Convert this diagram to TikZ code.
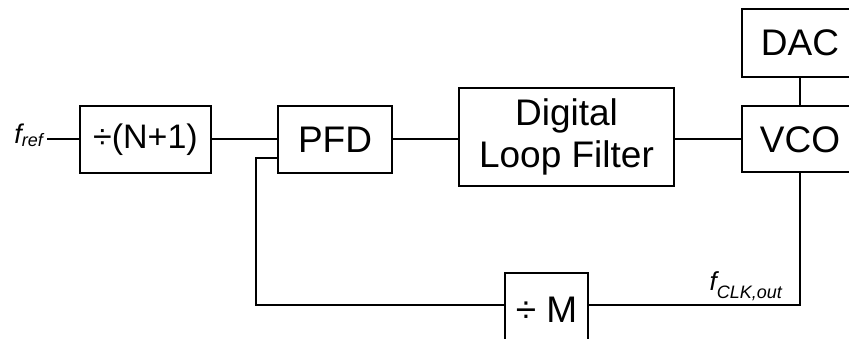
\documentclass[tikz,border=0pt]{standalone}
\usepackage{fontspec}
\setmainfont{Liberation Sans}
\begin{document}
\begin{tikzpicture}[x=1pt,y=1pt,
  blk/.style={draw, line width=2pt, inner sep=0pt, align=center,
    font=\fontsize{37}{41.5}\selectfont},
  wire/.style={line width=2pt}]
\useasboundingbox (0,0) rectangle (849,339);
\clip (0,0) rectangle (849,339);
\node[blk, minimum width=131, minimum height=67, font=\fontsize{34}{40}\selectfont] (div) at (145.5,199.5) {÷(N+1)};
\node[blk, minimum width=114, minimum height=67] (pfd) at (335,199.5) {PFD};
\node[blk, minimum width=215, minimum height=98] (dlf) at (566.5,202) {Digital\\Loop Filter};
\node[blk, minimum width=116, minimum height=66] (vco) at (800,199.5) {VCO};
\node[blk, minimum width=116, minimum height=68] (dac) at (800,296) {DAC};
\node[blk, minimum width=83, minimum height=80] (divm) at (546.5,26) {\raisebox{7pt}{÷ M}};
\coordinate (fin) at (47,199.5);
\coordinate (pin) at (pfd.west |- 0,181);
\coordinate (fb) at (256,181);
\coordinate (fbo) at (0,34);
\node[anchor=base east, inner sep=0pt] (fref) at (43,195)
  {\fontsize{27}{27}\selectfont\itshape f\raisebox{-3pt}{\fontsize{18}{18}\selectfont ref}};
\node[anchor=base east, inner sep=0pt] (fclk) at (782,48)
  {\fontsize{26}{26}\selectfont\itshape f\raisebox{-8pt}{\fontsize{18}{18}\selectfont CLK,out}};
\draw[wire] (fin) -- (div.west);
\draw[wire] (div.east) -- (pfd.west);
\draw[wire] (pfd.east) -- (pfd.east -| dlf.west);
\draw[wire] (vco.west -| dlf.east) -- (vco.west);
\draw[wire] (dac.south) -- (vco.north);
\draw[wire] (vco.south) |- (divm.east |- fbo);
\draw[wire] (divm.west |- fbo) -| (fb) -- (pin);
\end{tikzpicture}
\end{document}
